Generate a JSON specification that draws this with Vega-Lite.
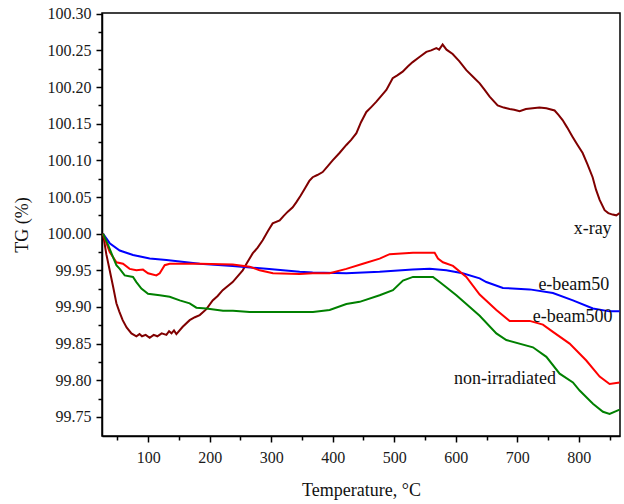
{
  "$schema": "https://vega.github.io/schema/vega-lite/v6.json",
  "autosize": {"type": "none"},
  "padding": {"left": 102, "top": 13, "right": 4, "bottom": 68},
  "width": 518,
  "height": 423,
  "background": "white",
  "config": {
    "view": {"stroke": "black", "strokeWidth": 1.5},
    "axis": {
      "grid": false,
      "domainColor": "black",
      "domainWidth": 1.5,
      "tickColor": "black",
      "tickWidth": 1.5,
      "labelFont": "Liberation Serif",
      "labelFontSize": 16,
      "labelColor": "#1a1a1a",
      "labelOverlap": false,
      "titleFont": "Liberation Serif",
      "titleFontSize": 18,
      "titleFontWeight": "normal",
      "titleColor": "#111"
    }
  },
  "datasets": {
    "curves": [
      {"s": "x-ray", "T": 26.6, "TG": 100.000},
      {"s": "x-ray", "T": 32, "TG": 99.972},
      {"s": "x-ray", "T": 37.5, "TG": 99.950},
      {"s": "x-ray", "T": 43, "TG": 99.928},
      {"s": "x-ray", "T": 48.4, "TG": 99.905},
      {"s": "x-ray", "T": 53, "TG": 99.894},
      {"s": "x-ray", "T": 58.6, "TG": 99.882},
      {"s": "x-ray", "T": 65, "TG": 99.872},
      {"s": "x-ray", "T": 72.8, "TG": 99.864},
      {"s": "x-ray", "T": 80.9, "TG": 99.860},
      {"s": "x-ray", "T": 86, "TG": 99.863},
      {"s": "x-ray", "T": 90, "TG": 99.860},
      {"s": "x-ray", "T": 96, "TG": 99.862},
      {"s": "x-ray", "T": 102.5, "TG": 99.858},
      {"s": "x-ray", "T": 109, "TG": 99.862},
      {"s": "x-ray", "T": 115, "TG": 99.860},
      {"s": "x-ray", "T": 122, "TG": 99.864},
      {"s": "x-ray", "T": 129.7, "TG": 99.862},
      {"s": "x-ray", "T": 134, "TG": 99.867},
      {"s": "x-ray", "T": 138, "TG": 99.864},
      {"s": "x-ray", "T": 142, "TG": 99.868},
      {"s": "x-ray", "T": 145.9, "TG": 99.863},
      {"s": "x-ray", "T": 156.2, "TG": 99.873},
      {"s": "x-ray", "T": 167.5, "TG": 99.882},
      {"s": "x-ray", "T": 176, "TG": 99.886},
      {"s": "x-ray", "T": 183.8, "TG": 99.889},
      {"s": "x-ray", "T": 194.7, "TG": 99.897},
      {"s": "x-ray", "T": 204.9, "TG": 99.909},
      {"s": "x-ray", "T": 213, "TG": 99.915},
      {"s": "x-ray", "T": 221.2, "TG": 99.923},
      {"s": "x-ray", "T": 237.4, "TG": 99.934},
      {"s": "x-ray", "T": 253.7, "TG": 99.950},
      {"s": "x-ray", "T": 262, "TG": 99.962},
      {"s": "x-ray", "T": 269.9, "TG": 99.973},
      {"s": "x-ray", "T": 278, "TG": 99.981},
      {"s": "x-ray", "T": 286.2, "TG": 99.991},
      {"s": "x-ray", "T": 295, "TG": 100.004},
      {"s": "x-ray", "T": 302.4, "TG": 100.014},
      {"s": "x-ray", "T": 313.8, "TG": 100.018},
      {"s": "x-ray", "T": 320, "TG": 100.024},
      {"s": "x-ray", "T": 327, "TG": 100.030},
      {"s": "x-ray", "T": 335, "TG": 100.036},
      {"s": "x-ray", "T": 341.0, "TG": 100.043},
      {"s": "x-ray", "T": 348, "TG": 100.052},
      {"s": "x-ray", "T": 355, "TG": 100.062},
      {"s": "x-ray", "T": 362, "TG": 100.072},
      {"s": "x-ray", "T": 367.4, "TG": 100.077},
      {"s": "x-ray", "T": 375, "TG": 100.080},
      {"s": "x-ray", "T": 383.7, "TG": 100.084},
      {"s": "x-ray", "T": 392, "TG": 100.092},
      {"s": "x-ray", "T": 399.9, "TG": 100.100},
      {"s": "x-ray", "T": 411, "TG": 100.110},
      {"s": "x-ray", "T": 422.2, "TG": 100.121},
      {"s": "x-ray", "T": 430, "TG": 100.128},
      {"s": "x-ray", "T": 438.5, "TG": 100.137},
      {"s": "x-ray", "T": 446, "TG": 100.152},
      {"s": "x-ray", "T": 454.7, "TG": 100.166},
      {"s": "x-ray", "T": 463, "TG": 100.173},
      {"s": "x-ray", "T": 471.0, "TG": 100.180},
      {"s": "x-ray", "T": 480, "TG": 100.189},
      {"s": "x-ray", "T": 487.2, "TG": 100.196},
      {"s": "x-ray", "T": 497.5, "TG": 100.212},
      {"s": "x-ray", "T": 505, "TG": 100.216},
      {"s": "x-ray", "T": 513.7, "TG": 100.221},
      {"s": "x-ray", "T": 522, "TG": 100.228},
      {"s": "x-ray", "T": 530.0, "TG": 100.234},
      {"s": "x-ray", "T": 541, "TG": 100.241},
      {"s": "x-ray", "T": 552.2, "TG": 100.248},
      {"s": "x-ray", "T": 560, "TG": 100.250},
      {"s": "x-ray", "T": 568.5, "TG": 100.253},
      {"s": "x-ray", "T": 573, "TG": 100.251},
      {"s": "x-ray", "T": 578.7, "TG": 100.258},
      {"s": "x-ray", "T": 585, "TG": 100.251},
      {"s": "x-ray", "T": 595.0, "TG": 100.245},
      {"s": "x-ray", "T": 606, "TG": 100.235},
      {"s": "x-ray", "T": 617.2, "TG": 100.223},
      {"s": "x-ray", "T": 628, "TG": 100.214},
      {"s": "x-ray", "T": 638.9, "TG": 100.205},
      {"s": "x-ray", "T": 647, "TG": 100.196},
      {"s": "x-ray", "T": 655.1, "TG": 100.187},
      {"s": "x-ray", "T": 668.1, "TG": 100.175},
      {"s": "x-ray", "T": 678, "TG": 100.172},
      {"s": "x-ray", "T": 687.6, "TG": 100.170},
      {"s": "x-ray", "T": 695, "TG": 100.169},
      {"s": "x-ray", "T": 703.9, "TG": 100.167},
      {"s": "x-ray", "T": 714, "TG": 100.170},
      {"s": "x-ray", "T": 725.0, "TG": 100.171},
      {"s": "x-ray", "T": 736, "TG": 100.172},
      {"s": "x-ray", "T": 747.3, "TG": 100.171},
      {"s": "x-ray", "T": 760.7, "TG": 100.168},
      {"s": "x-ray", "T": 767, "TG": 100.162},
      {"s": "x-ray", "T": 773.7, "TG": 100.155},
      {"s": "x-ray", "T": 781, "TG": 100.145},
      {"s": "x-ray", "T": 790.0, "TG": 100.132},
      {"s": "x-ray", "T": 798, "TG": 100.121},
      {"s": "x-ray", "T": 806.3, "TG": 100.110},
      {"s": "x-ray", "T": 814, "TG": 100.095},
      {"s": "x-ray", "T": 822.5, "TG": 100.077},
      {"s": "x-ray", "T": 828, "TG": 100.060},
      {"s": "x-ray", "T": 833.9, "TG": 100.046},
      {"s": "x-ray", "T": 842.0, "TG": 100.032},
      {"s": "x-ray", "T": 848, "TG": 100.028},
      {"s": "x-ray", "T": 855.0, "TG": 100.026},
      {"s": "x-ray", "T": 861, "TG": 100.025},
      {"s": "x-ray", "T": 866.4, "TG": 100.028},

      {"s": "e-beam50", "T": 26.6, "TG": 100.000},
      {"s": "e-beam50", "T": 37.5, "TG": 99.987},
      {"s": "e-beam50", "T": 53.8, "TG": 99.977},
      {"s": "e-beam50", "T": 75.4, "TG": 99.971},
      {"s": "e-beam50", "T": 102.5, "TG": 99.966},
      {"s": "e-beam50", "T": 129.7, "TG": 99.964},
      {"s": "e-beam50", "T": 183.8, "TG": 99.959},
      {"s": "e-beam50", "T": 237.4, "TG": 99.956},
      {"s": "e-beam50", "T": 292.2, "TG": 99.952},
      {"s": "e-beam50", "T": 346.3, "TG": 99.948},
      {"s": "e-beam50", "T": 367.4, "TG": 99.947},
      {"s": "e-beam50", "T": 422.2, "TG": 99.946},
      {"s": "e-beam50", "T": 476.3, "TG": 99.948},
      {"s": "e-beam50", "T": 530.0, "TG": 99.951},
      {"s": "e-beam50", "T": 557.6, "TG": 99.952},
      {"s": "e-beam50", "T": 584.7, "TG": 99.950},
      {"s": "e-beam50", "T": 611.2, "TG": 99.946},
      {"s": "e-beam50", "T": 638.9, "TG": 99.939},
      {"s": "e-beam50", "T": 649.7, "TG": 99.934},
      {"s": "e-beam50", "T": 676.7, "TG": 99.926},
      {"s": "e-beam50", "T": 720.1, "TG": 99.924},
      {"s": "e-beam50", "T": 758.0, "TG": 99.919},
      {"s": "e-beam50", "T": 790.5, "TG": 99.909},
      {"s": "e-beam50", "T": 823.0, "TG": 99.898},
      {"s": "e-beam50", "T": 850.1, "TG": 99.894},
      {"s": "e-beam50", "T": 866.4, "TG": 99.894},

      {"s": "e-beam500", "T": 26.6, "TG": 100.000},
      {"s": "e-beam500", "T": 37.5, "TG": 99.975},
      {"s": "e-beam500", "T": 48.4, "TG": 99.961},
      {"s": "e-beam500", "T": 59.1, "TG": 99.959},
      {"s": "e-beam500", "T": 70.0, "TG": 99.952},
      {"s": "e-beam500", "T": 80.9, "TG": 99.950},
      {"s": "e-beam500", "T": 91.6, "TG": 99.951},
      {"s": "e-beam500", "T": 99.8, "TG": 99.946},
      {"s": "e-beam500", "T": 113.4, "TG": 99.943},
      {"s": "e-beam500", "T": 118.8, "TG": 99.946},
      {"s": "e-beam500", "T": 126.9, "TG": 99.957},
      {"s": "e-beam500", "T": 135.0, "TG": 99.959},
      {"s": "e-beam500", "T": 183.8, "TG": 99.959},
      {"s": "e-beam500", "T": 237.4, "TG": 99.958},
      {"s": "e-beam500", "T": 265.0, "TG": 99.955},
      {"s": "e-beam500", "T": 281.3, "TG": 99.950},
      {"s": "e-beam500", "T": 302.9, "TG": 99.946},
      {"s": "e-beam500", "T": 346.3, "TG": 99.945},
      {"s": "e-beam500", "T": 367.4, "TG": 99.946},
      {"s": "e-beam500", "T": 395.0, "TG": 99.946},
      {"s": "e-beam500", "T": 422.2, "TG": 99.952},
      {"s": "e-beam500", "T": 449.1, "TG": 99.959},
      {"s": "e-beam500", "T": 476.3, "TG": 99.966},
      {"s": "e-beam500", "T": 492.6, "TG": 99.972},
      {"s": "e-beam500", "T": 530.5, "TG": 99.974},
      {"s": "e-beam500", "T": 565.7, "TG": 99.974},
      {"s": "e-beam500", "T": 571.1, "TG": 99.966},
      {"s": "e-beam500", "T": 579.2, "TG": 99.961},
      {"s": "e-beam500", "T": 595.5, "TG": 99.956},
      {"s": "e-beam500", "T": 617.2, "TG": 99.941},
      {"s": "e-beam500", "T": 638.9, "TG": 99.917},
      {"s": "e-beam500", "T": 666.0, "TG": 99.896},
      {"s": "e-beam500", "T": 687.6, "TG": 99.881},
      {"s": "e-beam500", "T": 720.1, "TG": 99.881},
      {"s": "e-beam500", "T": 741.7, "TG": 99.876},
      {"s": "e-beam500", "T": 758.0, "TG": 99.866},
      {"s": "e-beam500", "T": 785.1, "TG": 99.850},
      {"s": "e-beam500", "T": 812.2, "TG": 99.827},
      {"s": "e-beam500", "T": 833.9, "TG": 99.805},
      {"s": "e-beam500", "T": 850.1, "TG": 99.795},
      {"s": "e-beam500", "T": 866.4, "TG": 99.797},

      {"s": "non-irradiated", "T": 26.6, "TG": 100.000},
      {"s": "non-irradiated", "T": 35.2, "TG": 99.984},
      {"s": "non-irradiated", "T": 42.9, "TG": 99.968},
      {"s": "non-irradiated", "T": 48.4, "TG": 99.957},
      {"s": "non-irradiated", "T": 53.8, "TG": 99.952},
      {"s": "non-irradiated", "T": 61.9, "TG": 99.943},
      {"s": "non-irradiated", "T": 75.4, "TG": 99.941},
      {"s": "non-irradiated", "T": 80.9, "TG": 99.934},
      {"s": "non-irradiated", "T": 89.0, "TG": 99.925},
      {"s": "non-irradiated", "T": 99.8, "TG": 99.918},
      {"s": "non-irradiated", "T": 118.8, "TG": 99.916},
      {"s": "non-irradiated", "T": 135.0, "TG": 99.914},
      {"s": "non-irradiated", "T": 151.3, "TG": 99.909},
      {"s": "non-irradiated", "T": 167.5, "TG": 99.905},
      {"s": "non-irradiated", "T": 178.4, "TG": 99.899},
      {"s": "non-irradiated", "T": 194.7, "TG": 99.898},
      {"s": "non-irradiated", "T": 221.7, "TG": 99.895},
      {"s": "non-irradiated", "T": 237.9, "TG": 99.895},
      {"s": "non-irradiated", "T": 265.0, "TG": 99.893},
      {"s": "non-irradiated", "T": 346.3, "TG": 99.893},
      {"s": "non-irradiated", "T": 367.9, "TG": 99.893},
      {"s": "non-irradiated", "T": 395.0, "TG": 99.896},
      {"s": "non-irradiated", "T": 422.2, "TG": 99.904},
      {"s": "non-irradiated", "T": 443.8, "TG": 99.907},
      {"s": "non-irradiated", "T": 476.3, "TG": 99.916},
      {"s": "non-irradiated", "T": 497.9, "TG": 99.923},
      {"s": "non-irradiated", "T": 514.2, "TG": 99.936},
      {"s": "non-irradiated", "T": 530.5, "TG": 99.941},
      {"s": "non-irradiated", "T": 563.0, "TG": 99.941},
      {"s": "non-irradiated", "T": 573.8, "TG": 99.934},
      {"s": "non-irradiated", "T": 584.7, "TG": 99.927},
      {"s": "non-irradiated", "T": 601.0, "TG": 99.916},
      {"s": "non-irradiated", "T": 617.2, "TG": 99.904},
      {"s": "non-irradiated", "T": 638.9, "TG": 99.888},
      {"s": "non-irradiated", "T": 666.0, "TG": 99.864},
      {"s": "non-irradiated", "T": 682.2, "TG": 99.855},
      {"s": "non-irradiated", "T": 725.5, "TG": 99.845},
      {"s": "non-irradiated", "T": 747.3, "TG": 99.832},
      {"s": "non-irradiated", "T": 768.9, "TG": 99.809},
      {"s": "non-irradiated", "T": 790.5, "TG": 99.797},
      {"s": "non-irradiated", "T": 801.4, "TG": 99.786},
      {"s": "non-irradiated", "T": 823.0, "TG": 99.768},
      {"s": "non-irradiated", "T": 839.3, "TG": 99.757},
      {"s": "non-irradiated", "T": 850.1, "TG": 99.754},
      {"s": "non-irradiated", "T": 866.4, "TG": 99.760}
    ],
    "labels": [
      {"label": "x-ray", "T": 822.5, "TG": 100.007},
      {"label": "e-beam50", "T": 792, "TG": 99.930},
      {"label": "e-beam500", "T": 790, "TG": 99.887},
      {"label": "non-irradiated", "T": 680, "TG": 99.802}
    ]
  },
  "encoding": {
    "x": {
      "field": "T", "type": "quantitative",
      "scale": {"domain": [25, 867], "nice": false, "zero": false},
      "axis": {
        "title": "Temperature, °C",
        "values": [50, 100, 150, 200, 250, 300, 350, 400, 450, 500, 550, 600, 650, 700, 750, 800, 850],
        "labelExpr": "datum.value % 100 === 0 ? format(datum.value, 'd') : ''",
        "labelOverlap": false,
        "labelFont": "Liberation Serif",
        "labelFontSize": 16,
        "tickSize": {"condition": {"test": "datum.value % 100 === 0", "value": 6}, "value": 4},
        "labelPadding": 7,
        "titlePadding": 16
      }
    },
    "y": {
      "field": "TG", "type": "quantitative",
      "scale": {"domain": [99.724, 100.301], "nice": false, "zero": false},
      "axis": {
        "title": "TG (%)",
        "values": [99.75, 99.775, 99.8, 99.825, 99.85, 99.875, 99.9, 99.925, 99.95, 99.975, 100.0, 100.025, 100.05, 100.075, 100.1, 100.125, 100.15, 100.175, 100.2, 100.225, 100.25, 100.275, 100.3],
        "labelExpr": "round(datum.value * 1000) % 50 === 0 ? format(datum.value, '.2f') : ''",
        "labelOverlap": false,
        "labelFont": "Liberation Serif",
        "labelFontSize": 16,
        "tickSize": {"condition": {"test": "round(datum.value * 1000) % 50 === 0", "value": 6}, "value": 4},
        "labelPadding": 5,
        "titlePadding": 16
      }
    }
  },
  "layer": [
    {
      "data": {"name": "curves"},
      "mark": {"type": "line", "strokeWidth": 2, "clip": true},
      "encoding": {
        "color": {
          "field": "s", "type": "nominal",
          "scale": {"domain": ["x-ray", "e-beam50", "e-beam500", "non-irradiated"], "range": ["#800000", "#0000ff", "#ff0000", "#008000"]},
          "legend": null
        }
      }
    },
    {
      "data": {"name": "labels"},
      "mark": {"type": "text", "font": "Liberation Serif", "fontSize": 18, "align": "center", "baseline": "middle", "color": "#111"},
      "encoding": {
        "text": {"field": "label"}
      }
    }
  ]
}
